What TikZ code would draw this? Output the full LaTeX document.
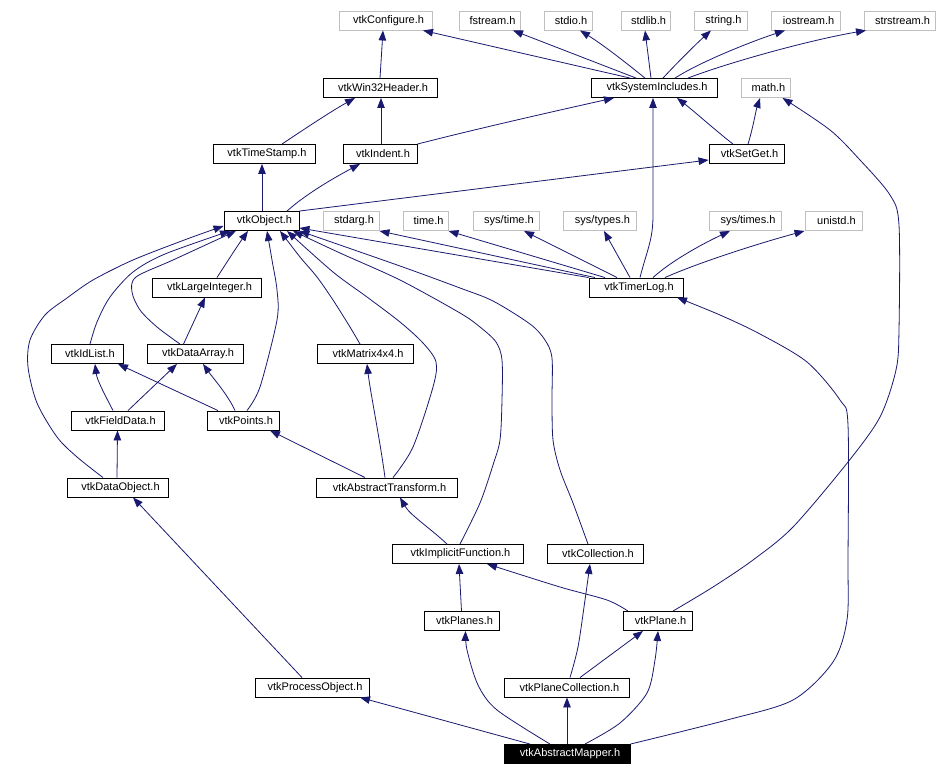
\documentclass[tikz,border=0pt]{standalone}
\usepackage{fontspec}
\setmainfont{Liberation Sans}
\usetikzlibrary{arrows.meta}
\definecolor{edgeblue}{HTML}{191970}
\definecolor{extgray}{HTML}{BFBFBF}
\begin{document}
\begin{tikzpicture}[x=1pt,y=-1pt,
  hdr/.style={draw=black, line width=0.9pt, minimum height=19pt, inner sep=0pt,
    font=\fontsize{11}{12}\selectfont, execute at begin node=\hspace*{6pt}},
  extbox/.style={hdr, draw=extgray},
  rootbox/.style={hdr, fill=black, text=white},
  dep/.style={draw=edgeblue, line width=0.8pt, -{Triangle[length=10pt,width=7.5pt]}}]
\fill[white] (0,0) rectangle (938,776);
\useasboundingbox (0,0) rectangle (938,776);
% row 1
\node[extbox, minimum width=93pt] (conf) at (385.5,20.5) {vtkConfigure.h};
\node[extbox, minimum width=61pt] (fstream) at (489.5,20.5) {fstream.h};
\node[extbox, minimum width=48pt] (stdio) at (568,20.5) {stdio.h};
\node[extbox, minimum width=49pt] (stdlib) at (645.5,20.5) {stdlib.h};
\node[extbox, minimum width=53pt] (string) at (720.5,20.5) {string.h};
\node[extbox, minimum width=69pt] (iostream) at (805.5,20.5) {iostream.h};
\node[extbox, minimum width=71pt] (strstream) at (899.5,20.5) {strstream.h};
% row 2
\node[hdr, minimum width=114pt] (win32) at (380,88) {vtkWin32Header.h};
\node[hdr, minimum width=126pt] (sysinc) at (654,88) {vtkSystemIncludes.h};
\node[extbox, minimum width=49pt] (math) at (765.5,88) {math.h};
% row 3
\node[hdr, minimum width=102pt] (timestamp) at (264,154) {vtkTimeStamp.h};
\node[hdr, minimum width=74pt] (indent) at (380,154) {vtkIndent.h};
\node[hdr, minimum width=75pt] (setget) at (746.5,154) {vtkSetGet.h};
% row 4
\node[hdr, minimum width=75pt] (object) at (261.5,221) {vtkObject.h};
\node[extbox, minimum width=56pt] (stdarg) at (351,221) {stdarg.h};
\node[extbox, minimum width=45pt] (time) at (425.5,221) {time.h};
\node[extbox, minimum width=66pt] (systime) at (506,221) {sys/time.h};
\node[extbox, minimum width=73pt] (systypes) at (599.5,221) {sys/types.h};
\node[extbox, minimum width=72pt] (systimes) at (745,221) {sys/times.h};
\node[extbox, minimum width=57pt] (unistd) at (833.5,221) {unistd.h};
% row 5
\node[hdr, minimum width=109pt] (largeint) at (206.5,287.5) {vtkLargeInteger.h};
\node[hdr, minimum width=94pt] (timerlog) at (636,287.5) {vtkTimerLog.h};
% row 6
\node[hdr, minimum width=72pt] (idlist) at (87,354) {vtkIdList.h};
\node[hdr, minimum width=96pt] (dataarray) at (195,354) {vtkDataArray.h};
\node[hdr, minimum width=96pt] (matrix) at (365,354) {vtkMatrix4x4.h};
% row 7
\node[hdr, minimum width=93pt] (fielddata) at (117.5,420.5) {vtkFieldData.h};
\node[hdr, minimum width=72pt] (points) at (243,420.5) {vtkPoints.h};
% row 8
\node[hdr, minimum width=101pt] (dataobject) at (117.5,487.5) {vtkDataObject.h};
\node[hdr, minimum width=141pt] (abstrans) at (386.5,487.5) {vtkAbstractTransform.h};
% row 9
\node[hdr, minimum width=131pt] (implicit) at (457.5,554) {vtkImplicitFunction.h};
\node[hdr, minimum width=96pt] (collection) at (595,554) {vtkCollection.h};
% row 10
\node[hdr, minimum width=75pt] (planes) at (461.5,621) {vtkPlanes.h};
\node[hdr, minimum width=69pt] (plane) at (657.5,621) {vtkPlane.h};
% row 11
\node[hdr, minimum width=114pt] (procobj) at (312,687.5) {vtkProcessObject.h};
\node[hdr, minimum width=125pt] (planecoll) at (566.5,687.5) {vtkPlaneCollection.h};
% row 12
\node[rootbox, minimum width=126pt] (mapper) at (567,754) {vtkAbstractMapper.h};

% ---- edges ----
\draw[dep] (win32.north) -- ([xshift=-2.5pt]conf.south);
\draw[dep] ([xshift=-24pt]sysinc.north) -- ([xshift=37.5pt]conf.south);
\draw[dep] ([xshift=-18pt]sysinc.north) -- ([xshift=23.5pt]fstream.south);
\draw[dep] ([xshift=-9pt]sysinc.north) .. controls (630,66) and (605,46) .. ([xshift=12pt]stdio.south);
\draw[dep] ([xshift=-3pt]sysinc.north) -- ([xshift=-0.5pt]stdlib.south);
\draw[dep] ([xshift=9pt]sysinc.north) .. controls (675,65) and (695,45) .. ([xshift=-9.5pt]string.south);
\draw[dep] ([xshift=21pt]sysinc.north) .. controls (700,62) and (750,42) .. ([xshift=-20.5pt]iostream.south);
\draw[dep] ([xshift=34pt]sysinc.north) .. controls (730,62) and (810,40) .. ([xshift=-33.5pt]strstream.south);

\draw[dep] ([xshift=18pt]timestamp.north) .. controls (300,132) and (330,112) .. ([xshift=-25pt]win32.south);
\draw[dep] ([xshift=1pt]indent.north) -- ([xshift=1pt]win32.south);
\draw[dep] (indent.north east) .. controls (480,128) and (560,110) .. ([xshift=-40pt]sysinc.south);
\draw[dep] ([xshift=-13.5pt]setget.north) .. controls (715,130) and (695,112) .. ([xshift=23pt]sysinc.south);
\draw[dep] ([xshift=1.5pt]setget.north) .. controls (753,128) and (756,110) .. ([xshift=-5.5pt]math.south);

\draw[dep] ([xshift=0.5pt]object.north) -- ([xshift=-2pt]timestamp.south);
\draw[dep] ([xshift=25.5pt]object.north) .. controls (305,195) and (330,180) .. ([xshift=-20pt]indent.south);
\draw[dep] (object.north east) -- ([yshift=-6pt]setget.west);

\draw[dep] ([xshift=4pt]timerlog.north) .. controls (647,250) and (653,240) .. (653,215) -- ([xshift=-1pt]sysinc.south);
\draw[dep] (timerlog.north west) -- ([yshift=-7pt]object.east);
\draw[dep] ([xshift=-41pt]timerlog.north) -- (stdarg.south east);
\draw[dep] ([xshift=-31pt]timerlog.north) -- (time.south east);
\draw[dep] ([xshift=-19pt]timerlog.north) -- ([xshift=18pt]systime.south);
\draw[dep] ([xshift=-6pt]timerlog.north) -- ([xshift=4.5pt]systypes.south);
\draw[dep] ([xshift=17pt]timerlog.north) .. controls (670,262) and (700,245) .. ([xshift=-15pt]systimes.south);
\draw[dep] ([xshift=29pt]timerlog.north) .. controls (700,262) and (760,243) .. (unistd.south west);

\draw[dep] ([xshift=10.5pt]largeint.north) .. controls (227,262) and (238,245) .. ([xshift=-13.5pt]object.south);
\draw[dep] plot[smooth] coordinates {([xshift=3pt]idlist.north) (97,322) (110,297) (133,272) (165,254) ([xshift=-31.5pt]object.south)};
\draw[dep] plot[smooth] coordinates {([xshift=-15pt]dataarray.north) (157,327) (140,310) (132,292) (136,277) (173,260) ([xshift=-25.5pt]object.south)};
\draw[dep] plot[smooth] coordinates {([xshift=-14.5pt]dataobject.north) (77,457) (57,437) (37,403) (28,367) (30,340) (45,315) (67,298) (93,280) (133,260) (187,239) ([yshift=-5pt]object.west)};
\draw[dep] plot[smooth] coordinates {([xshift=4pt]points.north) (260,387) (277,320) (277,290) (272,260) ([xshift=5.5pt]object.south)};
\draw[dep] plot[smooth] coordinates {([xshift=-5pt]matrix.north) (350,327) (333,300) (317,277) (300,257) ([xshift=18.5pt]object.south)};
\draw[dep] plot[smooth] coordinates {([xshift=6.5pt]abstrans.north) (413,447) (433,387) (436,362) (423,343) (400,322) (367,297) (333,272) ([xshift=25.5pt]object.south)};
\draw[dep] plot[smooth] coordinates {([xshift=2.5pt]implicit.north) (480,503) (493,465) (500,440) (502,400) (502,360) (496,342) (480,327) (460,313) (400,280) (340,253) ([xshift=31.5pt]object.south)};
\draw[dep] plot[smooth] coordinates {([xshift=-7pt]collection.north) (573,503) (560,470) (553,440) (552,400) (552,358) (545,340) (530,324) (493,301) (460,288) (400,266) (object.south east)};

\draw[dep] ([xshift=-11.5pt]dataarray.north) -- ([xshift=-1.5pt]largeint.south);
\draw[dep] ([xshift=-4.5pt]fielddata.north) .. controls (105,395) and (97,380) .. ([xshift=8pt]idlist.south);
\draw[dep] ([xshift=10.5pt]fielddata.north) -- ([xshift=-18pt]dataarray.south);
\draw[dep] ([xshift=-25pt]points.north) -- ([xshift=31pt]idlist.south);
\draw[dep] ([xshift=-8pt]points.north) .. controls (228,395) and (213,378) .. ([xshift=8pt]dataarray.south);
\draw[dep] ([xshift=-0.5pt]dataobject.north) -- (fielddata.south);
\draw[dep] ([xshift=-21.5pt]abstrans.north) -- ([xshift=27pt]points.south);
\draw[dep] ([xshift=-1.5pt]abstrans.north) .. controls (380,440) and (370,390) .. ([xshift=2pt]matrix.south);
\draw[dep] ([xshift=-10.5pt]implicit.north) .. controls (430,528) and (410,515) .. ([xshift=13.5pt]abstrans.south);
\draw[dep] (planes.north) -- ([xshift=1.5pt]implicit.south);
\draw[dep] plot[smooth] coordinates {([xshift=-29.5pt]plane.north) (607,600) (560,587) ([xshift=29.5pt]implicit.south)};
\draw[dep] plot[smooth] coordinates {([xshift=15.5pt]plane.north) (713,587) (753,560) (793,527) (848,462) (880,417) (896,370) (899,330) (899,225) (890,195) (860,160) (830,130) ([xshift=17pt]math.south)};
\draw[dep] plot[smooth] coordinates {([xshift=3.5pt]planecoll.north) (578,647) (585,600) ([xshift=-5pt]collection.south)};
\draw[dep] ([xshift=13.5pt]planecoll.north) -- ([xshift=-14.5pt]plane.south);
\draw[dep] ([xshift=-10pt]procobj.north) -- ([xshift=15.5pt]dataobject.south);

\draw[dep] ([xshift=-37pt]mapper.north) -- ([xshift=48pt]procobj.south);
\draw[dep] plot[smooth] coordinates {([xshift=-17pt]mapper.north) (497,710) (478,685) (467,650) ([xshift=4pt]planes.south)};
\draw[dep] (mapper.north) -- ([xshift=0.5pt]planecoll.south);
\draw[dep] plot[smooth] coordinates {([xshift=18pt]mapper.north) (620,723) (647,693) (655,660) ([xshift=0.5pt]plane.south)};
\draw[dep] plot[smooth] coordinates {(mapper.north east) (727,720) (793,700) (833,662) (847,620) (848,560) (848,425) (840,400) (807,362) (760,334) (720,315) ([xshift=41pt]timerlog.south)};
\end{tikzpicture}
\end{document}
